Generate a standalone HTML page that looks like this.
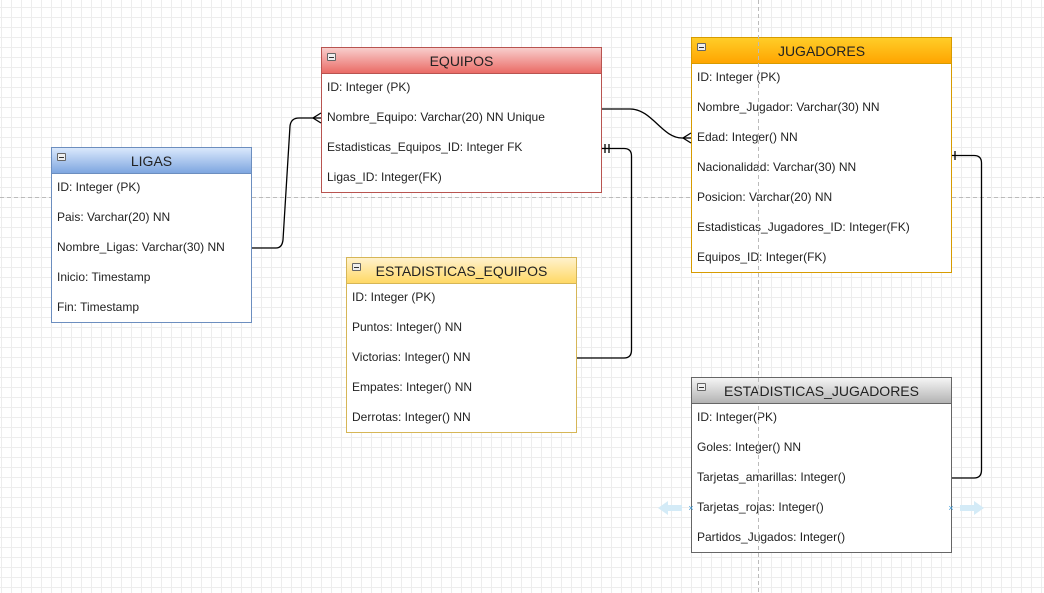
<!DOCTYPE html>
<html><head><meta charset="utf-8"><style>
body{margin:0;width:1044px;height:593px;overflow:hidden;background:#fff;font-family:"Liberation Sans",sans-serif;}
.grid{position:absolute;left:0;top:0;width:1044px;height:593px;
background-image:linear-gradient(to right,#ededed 1px,transparent 1px),linear-gradient(to bottom,#ededed 1px,transparent 1px);
background-size:10px 10px;background-position:1px 7px;}
.t{position:absolute;background:#fff;box-sizing:border-box;border:1px solid;}
.h{height:26px;box-sizing:border-box;border-bottom:1px solid;text-align:center;font-size:14px;line-height:27px;color:#222;position:relative;}
.h:before{content:"";position:absolute;left:5px;top:5px;width:7px;height:6px;border:1px solid #666;background:#eee;border-radius:1px;}
.h:after{content:"";position:absolute;left:7px;top:9px;width:5px;height:1px;background:#333;}
.r{height:30px;line-height:26px;font-size:12px;padding-left:5px;color:#222;white-space:nowrap;}
</style></head><body>
<div class="grid"></div>
<svg width="1044" height="593" style="position:absolute;left:0;top:0">
<line x1="0" y1="197.5" x2="1044" y2="197.5" stroke="#bbb" stroke-dasharray="4,3"/>
</svg>

<div class="t" style="left:51px;top:147px;width:201px;height:176px;border-color:#6c8ebf">
<div class="h" style="border-color:#6c8ebf;background:linear-gradient(#dae8fc,#7ea6e0)">LIGAS</div>
<div class="r">ID: Integer (PK)</div><div class="r">Pais: Varchar(20) NN</div><div class="r">Nombre_Ligas: Varchar(30) NN</div><div class="r">Inicio: Timestamp</div><div class="r">Fin: Timestamp</div></div>

<div class="t" style="left:321px;top:47px;width:281px;height:146px;border-color:#b85450">
<div class="h" style="border-color:#b85450;background:linear-gradient(#f8cecc,#ea6b66)">EQUIPOS</div>
<div class="r">ID: Integer (PK)</div><div class="r">Nombre_Equipo: Varchar(20) NN Unique</div><div class="r">Estadisticas_Equipos_ID: Integer FK</div><div class="r">Ligas_ID: Integer(FK)</div></div>

<div class="t" style="left:691px;top:37px;width:261px;height:236px;border-color:#d79b00">
<div class="h" style="border-color:#d79b00;background:linear-gradient(#ffcd28,#ffa500)">JUGADORES</div>
<div class="r">ID: Integer (PK)</div><div class="r">Nombre_Jugador: Varchar(30) NN</div><div class="r">Edad: Integer() NN</div><div class="r">Nacionalidad: Varchar(30) NN</div><div class="r">Posicion: Varchar(20) NN</div><div class="r">Estadisticas_Jugadores_ID: Integer(FK)</div><div class="r">Equipos_ID: Integer(FK)</div></div>

<div class="t" style="left:346px;top:257px;width:231px;height:176px;border-color:#d6b656">
<div class="h" style="border-color:#d6b656;background:linear-gradient(#fff2cc,#ffd966)">ESTADISTICAS_EQUIPOS</div>
<div class="r">ID: Integer (PK)</div><div class="r">Puntos: Integer() NN</div><div class="r">Victorias: Integer() NN</div><div class="r">Empates: Integer() NN</div><div class="r">Derrotas: Integer() NN</div></div>

<div class="t" style="left:691px;top:377px;width:261px;height:176px;border-color:#666">
<div class="h" style="border-color:#666;background:linear-gradient(#f5f5f5,#b3b3b3)">ESTADISTICAS_JUGADORES</div>
<div class="r">ID: Integer(PK)</div><div class="r">Goles: Integer() NN</div><div class="r">Tarjetas_amarillas: Integer()</div><div class="r">Tarjetas_rojas: Integer()</div><div class="r">Partidos_Jugados: Integer()</div></div>

<svg width="1044" height="593" style="position:absolute;left:0;top:0">
<line x1="758.5" y1="0" x2="758.5" y2="593" stroke="#bbb" stroke-dasharray="4,3"/>
</svg>

<svg width="1044" height="593" style="position:absolute;left:0;top:0" fill="none" stroke="#000" stroke-width="1.3">
<path d="M252,248 L276,248 Q282,248 283,240 L290,126 Q291,118 299,118 L321,118"/>
<path d="M321,113 L313,118 L321,123"/>
<path d="M602,109 L630,109 C652,109 662,138 682,138 L691,138"/>
<path d="M691,133 L683,138 L691,143"/>
<path d="M602,148.5 L624,148.5 Q631.5,148.5 631.5,156 L631.5,350 Q631.5,358 624,358 L577,358"/>
<path d="M605,144 L605,153 M609,144 L609,153"/>
<path d="M952,155.5 L974,155.5 Q981.5,155.5 981.5,163 L981.5,470 Q981.5,478 974,478 L952,478"/>
<path d="M955,151 L955,160"/>
</svg>
<svg width="1044" height="593" style="position:absolute;left:0;top:0">
<path d="M658,508 L668,501 L668,505 L682,505 L682,511 L668,511 L668,515 Z" fill="#d4ebf7"/>
<path d="M984,508 L974,501 L974,505 L960,505 L960,511 L974,511 L974,515 Z" fill="#d4ebf7"/>
<text x="691" y="511" font-size="9" fill="#3a9ad9" text-anchor="middle" font-family="Liberation Sans">×</text>
<text x="951" y="511" font-size="9" fill="#3a9ad9" text-anchor="middle" font-family="Liberation Sans">×</text>
</svg>
</body></html>
